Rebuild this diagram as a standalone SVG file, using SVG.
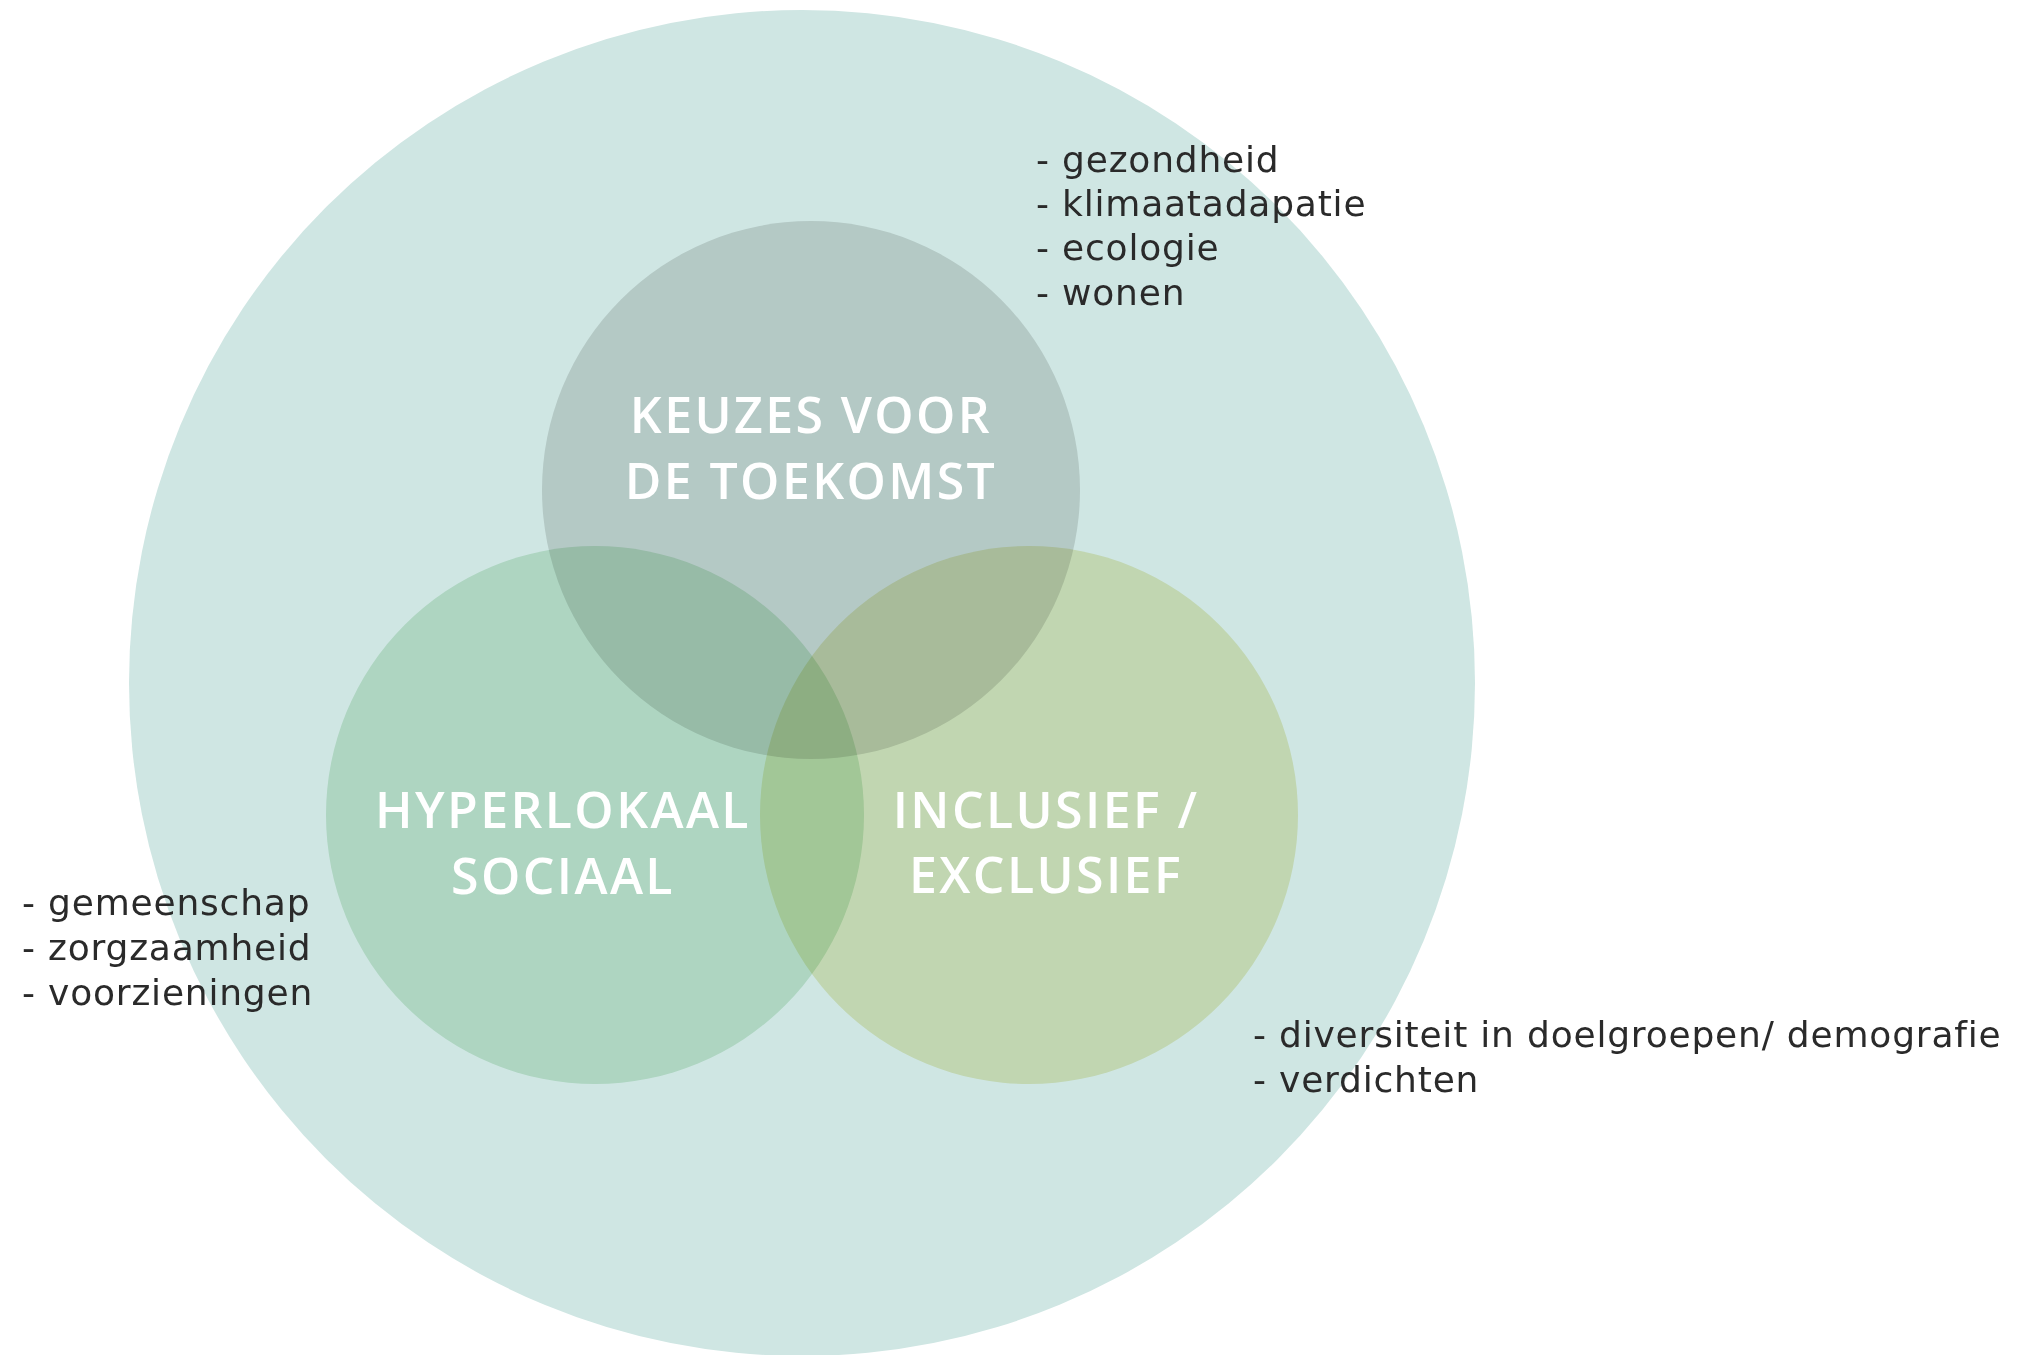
<svg xmlns="http://www.w3.org/2000/svg" width="2021" height="1355" viewBox="0 0 2021 1355">
  <style>
    .bg { fill: #CFE6E3; }
    .blend { mix-blend-mode: multiply; }
    .title { font-family: "Open Sans", "Liberation Sans", sans-serif; font-weight: 600; font-size: 50px; letter-spacing: 2.4px; fill: #FFFFFF; text-anchor: middle; }
    .list { font-family: "DejaVu Sans", "Liberation Sans", sans-serif; font-size: 36px; letter-spacing: 0.8px; fill: #2A2A2A; }
  </style>
  <rect x="0" y="0" width="2021" height="1355" fill="#FFFFFF"/>
  <g id="outer">
    <circle class="bg" cx="802" cy="683" r="673"/>
  </g>
  <g id="circles">
    <g id="keuzes">
      <circle class="blend" cx="811" cy="490" r="269" fill="#DEDFDE"/>
    </g>
    <g id="hyperlokaal">
      <circle class="blend" cx="595" cy="815" r="269" fill="#D6EDD9"/>
    </g>
    <g id="inclusief">
      <circle class="blend" cx="1029" cy="815" r="269" fill="#EEEEC7"/>
    </g>
  </g>
  <g id="connectors"></g>
  <g id="titles">
    <text class="title" x="811" y="433">KEUZES VOOR</text>
    <text class="title" x="811" y="499">DE TOEKOMST</text>
    <text class="title" x="563" y="828">HYPERLOKAAL</text>
    <text class="title" x="563" y="894">SOCIAAL</text>
    <text class="title" x="1046" y="828">INCLUSIEF /</text>
    <text class="title" x="1046" y="893">EXCLUSIEF</text>
  </g>
  <g id="list-top">
    <text class="list" x="1036" y="172">- gezondheid</text>
    <text class="list" x="1036" y="216">- klimaatadapatie</text>
    <text class="list" x="1036" y="260">- ecologie</text>
    <text class="list" x="1036" y="305">- wonen</text>
  </g>
  <g id="list-left">
    <text class="list" x="22" y="915">- gemeenschap</text>
    <text class="list" x="22" y="960">- zorgzaamheid</text>
    <text class="list" x="22" y="1005">- voorzieningen</text>
  </g>
  <g id="list-right">
    <text class="list" x="1253" y="1047">- diversiteit in doelgroepen/ demografie</text>
    <text class="list" x="1253" y="1092">- verdichten</text>
  </g>
</svg>
